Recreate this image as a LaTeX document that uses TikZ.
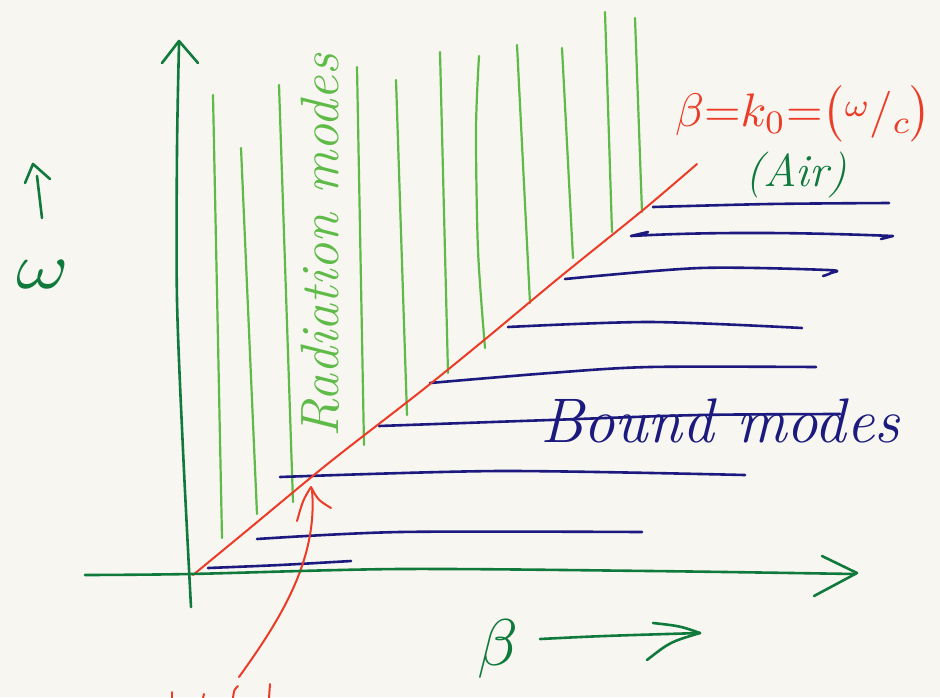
\documentclass[tikz,border=0pt]{standalone}
\definecolor{paper}{HTML}{F8F6F1}
\definecolor{axisgreen}{HTML}{0F7A3C}
\definecolor{hatchgreen}{HTML}{5EBB48}
\definecolor{navy}{HTML}{1C1A7E}
\definecolor{sketchred}{HTML}{EC3B26}
\begin{document}
\begin{tikzpicture}[x=1pt,y=-1pt,line cap=round,line join=round,
  axis/.style={draw=axisgreen,line width=2.6pt},
  hatch/.style={draw=hatchgreen,line width=2.2pt},
  bound/.style={draw=navy,line width=2.6pt},
  redline/.style={draw=sketchred,line width=2pt},
  lbl/.style={inner sep=0pt,outer sep=0pt}]
\fill[paper] (0,0) rectangle (940,697);
\useasboundingbox (0,0) rectangle (940,697);

% green hatch lines (radiation modes)
\draw[hatch] (213,95) -- (222,538);
\draw[hatch] (241,148) -- (257,514);
\draw[hatch] (279,85) -- (293,502);
\draw[hatch] (357,67) -- (364,445);
\draw[hatch] (396,80) -- (407,415);
\draw[hatch] (440,52) -- (448,373);
\draw[hatch] plot[smooth] coordinates {(479,56) (476,130) (478,250) (485,348)};
\draw[hatch] (517,45) -- (530,303);
\draw[hatch] (562,48) -- (573,258);
\draw[hatch] (605,12) -- (612,232);
\draw[hatch] (635,18) -- (642,212);

% bound mode lines
\draw[bound] plot[smooth] coordinates {(653,207) (770,204) (889,203)};
\draw[bound] (648,232) -- (631,236) .. controls (720,231) and (820,233) .. (893,236) -- (881,239);
\draw[bound] plot[smooth] coordinates {(565,279) (700,268) (828,270) (831,273) (823,276)};
\draw[bound] plot[smooth] coordinates {(508,327) (650,322) (802,328)};
\draw[bound] plot[smooth] coordinates {(430,383) (550,373) (650,367) (816,367)};
\draw[bound] plot[smooth] coordinates {(379,426) (550,420) (700,415) (840,414)};
\draw[bound] plot[smooth] coordinates {(280,477) (500,471) (745,475)};
\draw[bound] plot[smooth] coordinates {(257,539) (400,532) (642,532)};
\draw[bound] plot[smooth] coordinates {(208,568) (280,565) (351,561)};

% light line beta = k0
\draw[redline] plot[smooth] coordinates {(193,575) (250,528) (330,462) (420,392) (483,341) (560,277) (643,210) (697,164)};

% pointer arrow
\draw[redline] (239,677) .. controls (280,620) and (318,560) .. (312,490);
\draw[redline] (297,521) .. controls (303,500) .. (311,487) .. controls (318,500) .. (331,508);
% cut-off red writing at the bottom edge
\draw[redline] (172,692) -- (172,698);
\draw[redline] (204,694) -- (203,698);
\draw[redline] (238,686) .. controls (234,690) .. (233,698);
\draw[redline] (270,684) -- (269,698);

% axes
\draw[axis] plot[smooth] coordinates {(179,44) (177,150) (177,300) (183,450) (191,607)};
\draw[axis] (162,63) -- (179,41) -- (198,63);
\draw[axis] plot[smooth] coordinates {(85,575) (190,574) (400,569) (650,571) (855,574)};
\draw[axis] (822,556) -- (857,573) -- (814,596);

% omega label with arrow
\draw[axis] (42,218) -- (37,176);
\draw[axis] (25,183) -- (33,164) -- (50,179);
\node[lbl,text=axisgreen,anchor=base] (omega) at (43,288) {\scalebox{8}[6.5]{$\omega$}};

% beta label with arrow
\node[lbl,text=axisgreen,anchor=base] (beta) at (498,665) {\scalebox{6.6}{$\beta$}};
\draw[axis] (540,639) .. controls (600,636) .. (700,633);
\draw[axis] (653,623) .. controls (680,626) .. (700,633) .. controls (670,642) .. (647,660);

% texts
\node[lbl,text=hatchgreen,rotate=90,anchor=base west,font=\fontsize{54}{58}\selectfont\itshape] (rad) at (338,437) {Radiation modes};
\node[lbl,text=navy,anchor=base west,font=\fontsize{63}{67}\selectfont\itshape] (bm) at (540,442) {Bound modes};
\node[lbl,text=sketchred,anchor=base west] (eq) at (675,126) {\scalebox{4.7}{$\beta{=}k_0{=}\bigl(\raisebox{2pt}{$\scriptstyle\omega$}/\raisebox{-1.5pt}{$\scriptstyle c$}\bigr)$}};
\node[lbl,text=axisgreen,anchor=base,font=\fontsize{46}{50}\selectfont\itshape] (air) at (796,186) {(Air)};
\end{tikzpicture}
\end{document}
